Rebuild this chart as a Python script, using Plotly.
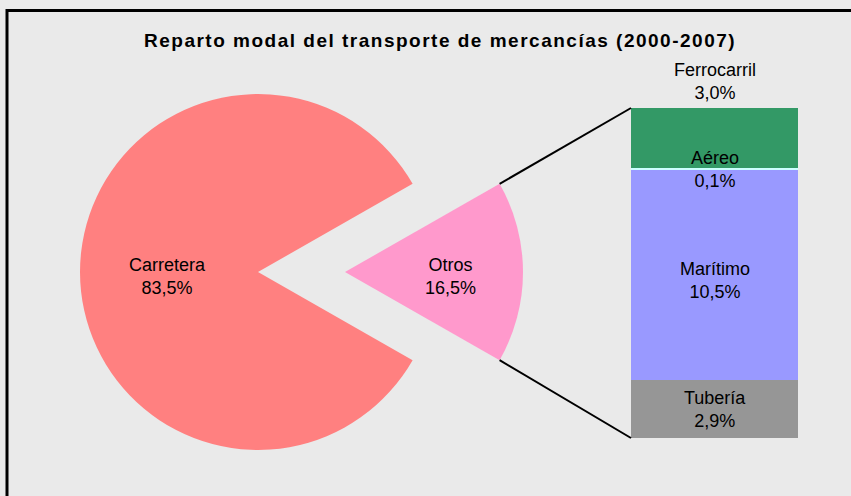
import math
import plotly.graph_objects as go

# ---- data ----
pie_labels = ["Carretera", "Otros"]
pie_values = [83.5, 16.5]
bar_labels = ["Tubería", "Marítimo", "Aéreo", "Ferrocarril"]
bar_values = [2.9, 10.5, 0.1, 3.0]
title_text = "Reparto modal del transporte de mercancías (2000-2007)"

pie_colors = ["#FF8080", "#FF99CC"]
bar_colors = ["#969696", "#9999FF", "#CCFFFF", "#339966"]

W, H = 851, 496
BG = "#EAEAEA"
FONT = "Liberation Sans, Arial, sans-serif"


def fx(x):
    return x / W


def fy(y):
    return 1 - y / H


def fmt(v):
    return f"{v:.1f}".replace(".", ",") + "%"


# geometry (pixels)
R = 178
C1 = (258, 272)      # main pie centre
PULL = 87            # explode distance for "Otros"
C2 = (C1[0] + PULL, C1[1])
BAR_X0, BAR_X1 = 631, 798
BAR_Y0, BAR_Y1 = 108, 438   # top, bottom

otros_frac = pie_values[1] / sum(pie_values)
half = otros_frac * 180.0     # half angle in degrees
rotation = 90 + half          # first slice (Carretera) start, clockwise from 12 o'clock


def dom(c):
    return dict(x=[fx(c[0] - R), fx(c[0] + R)], y=[fy(c[1] + R), fy(c[1] - R)])


fig = go.Figure()
fig.add_trace(go.Pie(
    labels=pie_labels, values=pie_values, sort=False, direction="clockwise",
    rotation=rotation, domain=dom(C1), textinfo="none", hoverinfo="skip",
    marker=dict(colors=[pie_colors[0], "rgba(0,0,0,0)"], line=dict(width=0)),
    showlegend=False,
))
fig.add_trace(go.Pie(
    labels=pie_labels, values=pie_values, sort=False, direction="clockwise",
    rotation=rotation, domain=dom(C2), textinfo="none", hoverinfo="skip",
    marker=dict(colors=["rgba(0,0,0,0)", pie_colors[1]], line=dict(width=0)),
    showlegend=False,
))

total_other = sum(bar_values)
for lab, val, col in zip(bar_labels, bar_values, bar_colors):
    fig.add_trace(go.Bar(
        x=[0], y=[val], width=1, name=lab, marker=dict(color=col, line=dict(width=0)),
        hoverinfo="skip", showlegend=False, xaxis="x", yaxis="y",
    ))

annotations = []
# pie labels
lab_font = dict(family=FONT, size=18, color="black")
annotations.append(dict(
    x=fx(C1[0] - 0.51 * R), y=fy(C1[1] + 4), xref="paper", yref="paper",
    text=f"{pie_labels[0]}<br>{fmt(pie_values[0])}", showarrow=False, font=lab_font,
    xanchor="center", yanchor="middle"))
annotations.append(dict(
    x=fx(C2[0] + 0.59 * R), y=fy(C2[1] + 4), xref="paper", yref="paper",
    text=f"{pie_labels[1]}<br>{fmt(pie_values[1])}", showarrow=False, font=lab_font,
    xanchor="center", yanchor="middle"))

# bar labels
label_shift = {"Tubería": 0, "Marítimo": -5, "Aéreo": 0}
cum = 0
for lab, val in zip(bar_labels, bar_values):
    mid = cum + val / 2
    txt = f"{lab}<br>{fmt(val)}"
    if lab == "Ferrocarril":
        annotations.append(dict(x=0, y=total_other, xref="x", yref="y", text=txt,
                                showarrow=False, font=lab_font, yanchor="bottom", yshift=3))
    else:
        annotations.append(dict(x=0, y=mid, xref="x", yref="y", text=txt,
                                showarrow=False, font=lab_font, yanchor="middle",
                                yshift=label_shift.get(lab, 0)))
    cum += val

# title
annotations.append(dict(x=fx(440), y=fy(40), xref="paper", yref="paper",
                        text=f"<span style=\"letter-spacing:1.5px\"><b>{title_text}</b></span>",
                        showarrow=False, font=dict(family=FONT, size=19, color="black"),
                        xanchor="center", yanchor="middle"))

# connector lines
a = math.radians(half)
ex = C2[0] + R * math.cos(a)
ey_top = C2[1] - R * math.sin(a)
ey_bot = C2[1] + R * math.sin(a)
shapes = [
    dict(type="line", xref="paper", yref="paper", x0=fx(ex), y0=fy(ey_top),
         x1=fx(BAR_X0), y1=fy(BAR_Y0), line=dict(color="black", width=2)),
    dict(type="line", xref="paper", yref="paper", x0=fx(ex), y0=fy(ey_bot),
         x1=fx(BAR_X0), y1=fy(BAR_Y1), line=dict(color="black", width=2)),
    dict(type="rect", xref="paper", yref="paper", x0=fx(7), y0=fy(10.5),
         x1=fx(W + 20), y1=fy(H + 20), line=dict(color="black", width=3),
         fillcolor="rgba(0,0,0,0)"),
]

fig.update_layout(
    width=W, height=H, margin=dict(l=0, r=0, t=0, b=0),
    paper_bgcolor=BG, plot_bgcolor="rgba(0,0,0,0)",
    barmode="stack", bargap=0,
    xaxis=dict(domain=[fx(BAR_X0), fx(BAR_X1)], range=[-0.5, 0.5], visible=False, fixedrange=True),
    yaxis=dict(domain=[fy(BAR_Y1), fy(BAR_Y0)], range=[0, total_other], visible=False, fixedrange=True),
    annotations=annotations, shapes=shapes, hovermode=False, showlegend=False,
)

fig.write_html("out.html", config={"displayModeBar": False},
               post_script="document.body.style.margin='0';document.body.style.background='" + BG + "';")
